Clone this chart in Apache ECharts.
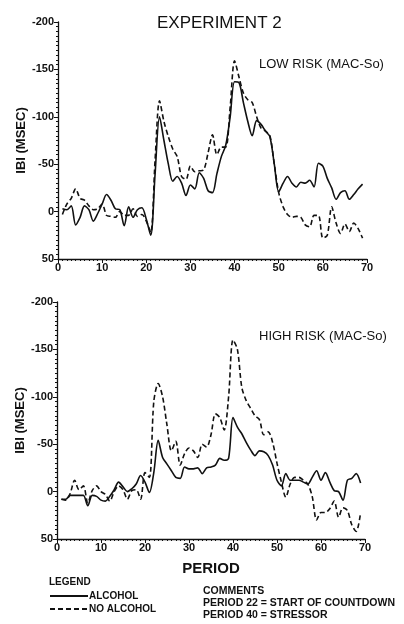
<!DOCTYPE html>
<html>
<head>
<meta charset="utf-8">
<script src="https://cdn.jsdelivr.net/npm/echarts@6/dist/echarts.min.js"></script>
<style>
html,body{margin:0;padding:0;background:#fff;}
#chart{width:404px;height:624px;}
</style>
</head>
<body>
<div id="chart"></div>
<script>
// periods 1..69
var periods=[1,2,3,4,5,6,7,8,9,10,11,12,13,14,15,16,17,18,19,20,21,22,23,24,25,26,27,28,29,30,
	31,32,33,34,35,36,37,38,39,40,41,42,43,44,45,46,47,48,49,50,51,52,53,54,55,56,57,58,59,60,
	61,62,63,64,65,66,67,68,69];

// LOW RISK panel (IBI change, msec)
var lowAlcohol=[-3,-2,-6,14,6,-6,-2,10,2,-8,-18,-12,-3,-2,15,-5,6,-2,-4,8,25,-40,-100,-75,-50,-32,-37,-30,-17,-28,
	-24,-41,-35,-22,-20,-40,-58,-70,-100,-137,-136,-115,-95,-80,-96,-92,-85,-79,-50,-21,-30,-37,-30,-26,-31,-30,-33,-26,-51,-48,
	-35,-25,-13,-20,-22,-13,-18,-24,-29];
var lowNoAlcohol=[3,-8,-14,-24,-14,-12,-6,-2,-3,-8,4,5,6,0,4,4,-3,5,3,10,22,-55,-117,-95,-79,-66,-58,-37,-34,-48,
	-42,-43,-44,-62,-81,-60,-68,-68,-110,-159,-142,-125,-118,-115,-100,-88,-85,-80,-50,-20,-5,3,6,5,6,14,16,4,4,28,
	25,-5,12,23,13,21,12,18,28];

// HIGH RISK panel
var highAlcohol=[8,8,4,4,4,4,15,4,5,9,10,5,-2,-10,-5,0,-3,-8,-17,-10,1,-20,-54,-36,-29,-22,-15,-14,-26,-24,
	-24,-25,-19,-25,-26,-28,-35,-33,-35,-78,-68,-61,-52,-44,-38,-43,-42,-38,-28,-12,-6,-19,-12,-12,-12,-10,-8,-15,-22,-12,
	-20,-10,-1,0,9,-12,-14,-19,-9];
var highNoAlcohol=[8,9,2,-12,-2,-6,12,-1,-6,0,3,10,0,-6,-2,8,-1,-2,8,-20,-15,-95,-114,-100,-70,-43,-53,-28,-40,-46,
	-43,-36,-50,-47,-60,-82,-78,-65,-100,-160,-150,-110,-96,-88,-80,-76,-60,-63,-52,-30,-10,6,-8,-15,-15,-12,-8,5,30,22,
	22,18,10,27,17,20,35,42,22];

var xTicks=[0,10,20,30,40,50,60,70];
var yTicks=[-200,-150,-100,-50,0,50];

var FONT="'Liberation Sans', Arial, sans-serif";
var INK='#111';

function pairs(xs, ys){
	var out=[];
	for(var i=0;i<xs.length;i++){ out.push([xs[i], ys[i]]); }
	return out;
}

function makeX(gi, name){
	return {
		type:'value', gridIndex:gi,
		min:xTicks[0], max:xTicks[xTicks.length-1], interval:10,
		name:name, nameLocation:'middle', nameGap:22,
		nameTextStyle:{color:INK, fontFamily:FONT, fontSize:15, fontWeight:'bold'},
		axisLine:{show:true, onZero:false, lineStyle:{color:INK, width:1.3}},
		axisTick:{show:true, length:4, lineStyle:{color:INK}},
		minorTick:{show:true, splitNumber:10, length:2, lineStyle:{color:INK}},
		splitLine:{show:false},
		axisLabel:{color:INK, fontFamily:FONT, fontSize:11, fontWeight:'bold', margin:3}
	};
}
function makeY(gi){
	return {
		type:'value', gridIndex:gi, inverse:true,
		min:yTicks[0], max:yTicks[yTicks.length-1], interval:50,
		name:'IBI (MSEC)', nameLocation:'middle', nameGap:30, nameRotate:90, nameMoveOverlap:false,
		nameTextStyle:{color:INK, fontFamily:FONT, fontSize:13, fontWeight:'bold'},
		axisLine:{show:true, onZero:false, lineStyle:{color:INK, width:1.3}},
		axisTick:{show:true, length:4, lineStyle:{color:INK}},
		minorTick:{show:true, splitNumber:10, length:2, lineStyle:{color:INK}},
		splitLine:{show:false},
		axisLabel:{color:INK, fontFamily:FONT, fontSize:11, fontWeight:'bold', margin:4}
	};
}

var solidStyle={color:INK, width:1.6, type:'solid'};
var dashStyle={color:INK, width:1.6, type:[5,3]};

var chart=echarts.init(document.getElementById('chart'));
var option={
	backgroundColor:'#fff',
	animation:false,
	title:[
		{text:'EXPERIMENT 2', left:152, top:10, textStyle:{color:INK, fontFamily:FONT, fontSize:17, fontWeight:'normal'}},
		{text:'LOW RISK (MAC-So)', left:254, top:53, textStyle:{color:INK, fontFamily:FONT, fontSize:13, fontWeight:'normal'}},
		{text:'HIGH RISK (MAC-So)', left:254, top:325, textStyle:{color:INK, fontFamily:FONT, fontSize:13, fontWeight:'normal'}},
		{text:'LEGEND', left:49, top:577, padding:0, textStyle:{color:INK, fontFamily:FONT, fontSize:10, fontWeight:'bold'}},
		{text:'COMMENTS\nPERIOD 22 = START OF COUNTDOWN\nPERIOD 40 = STRESSOR', left:203, top:585, padding:0,
			textStyle:{color:INK, fontFamily:FONT, fontSize:10.5, fontWeight:'bold', lineHeight:12}}
	],
	legend:{
		orient:'vertical', left:49, top:591, padding:0, itemGap:3,
		itemWidth:38, itemHeight:10,
		itemStyle:{opacity:0},
		data:['ALCOHOL','NO ALCOHOL'],
		textStyle:{color:INK, fontFamily:FONT, fontSize:10, fontWeight:'bold', padding:[0,0,0,-4]}
	},
	grid:[
		{left:58, top:22, width:309, height:237, containLabel:false},
		{left:57, top:302, width:308, height:237, containLabel:false}
	],
	xAxis:[makeX(0,''), makeX(1,'PERIOD')],
	yAxis:[makeY(0), makeY(1)],
	series:[
		{name:'ALCOHOL', type:'line', xAxisIndex:0, yAxisIndex:0, data:pairs(periods, lowAlcohol),
			symbol:'none', smooth:0.3, lineStyle:solidStyle, itemStyle:{color:INK}},
		{name:'NO ALCOHOL', type:'line', xAxisIndex:0, yAxisIndex:0, data:pairs(periods, lowNoAlcohol),
			symbol:'none', smooth:0.3, lineStyle:dashStyle, itemStyle:{color:INK}},
		{name:'ALCOHOL', type:'line', xAxisIndex:1, yAxisIndex:1, data:pairs(periods, highAlcohol),
			symbol:'none', smooth:0.3, lineStyle:solidStyle, itemStyle:{color:INK}},
		{name:'NO ALCOHOL', type:'line', xAxisIndex:1, yAxisIndex:1, data:pairs(periods, highNoAlcohol),
			symbol:'none', smooth:0.3, lineStyle:dashStyle, itemStyle:{color:INK}}
	]
};
chart.setOption(option);
</script>
</body>
</html>
